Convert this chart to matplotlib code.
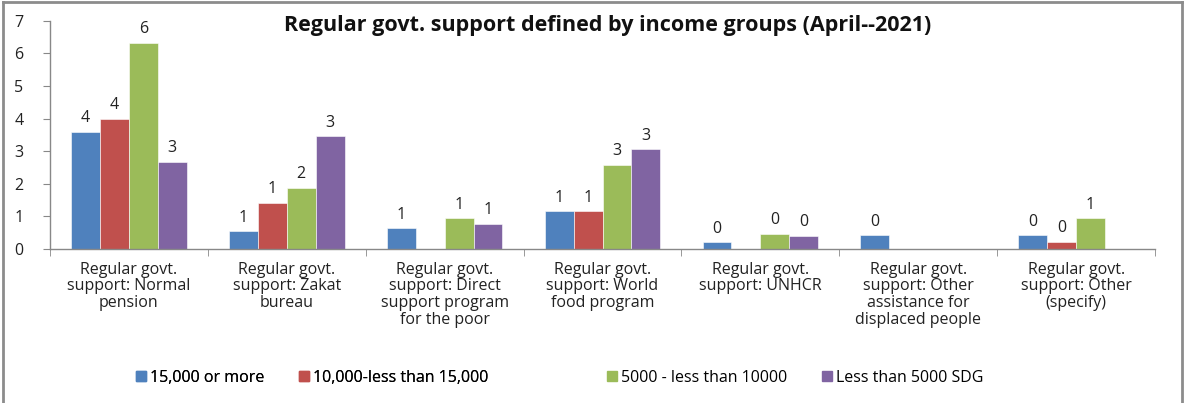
import numpy as np
import matplotlib
matplotlib.use("Agg")
import matplotlib.pyplot as plt
from matplotlib.lines import Line2D

plt.rcParams['font.family'] = ['Open Sans', 'DejaVu Sans']

categories = [
    "Regular govt.\nsupport: Normal\npension",
    "Regular govt.\nsupport: Zakat\nbureau",
    "Regular govt.\nsupport: Direct\nsupport program\nfor the poor",
    "Regular govt.\nsupport: World\nfood program",
    "Regular govt.\nsupport: UNHCR",
    "Regular govt.\nsupport: Other\nassistance for\ndisplaced people",
    "Regular govt.\nsupport: Other\n(specify)",
]
series_names = ["15,000 or more", "10,000-less than 15,000",
                "5000 - less than 10000", "Less than 5000 SDG"]
nan = np.nan
s_15000_plus = [3.60, 0.54, 0.64, 1.16, 0.20, 0.42, 0.42]
s_10000_15000 = [4.00, 1.41, nan, 1.16, nan, nan, 0.22]
s_5000_10000 = [6.33, 1.88, 0.94, 2.59, 0.47, nan, 0.94]
s_below_5000 = [2.67, 3.45, 0.78, 3.06, 0.40, nan, nan]
series = [s_15000_plus, s_10000_15000, s_5000_10000, s_below_5000]
colors = ["#4F81BD", "#C0504D", "#9BBB59", "#8064A2"]
yticks = [0, 1, 2, 3, 4, 5, 6, 7]

W, H = 1189, 403
fig = plt.figure(figsize=(W / 100, H / 100), dpi=100)
ax = fig.add_axes([50 / W, 154 / H, 1105 / W, 228.3 / H])

n = len(categories)
x = np.arange(n)
bw = 0.183
for i, (vals, col) in enumerate(zip(series, colors)):
    pos = x + (i - 1.5) * bw
    v = np.array(vals, dtype=float)
    ax.bar(pos, np.nan_to_num(v), width=bw, color=col,
           edgecolor="white", linewidth=0.4, label=series_names[i])
    for p, val in zip(pos, v):
        if np.isnan(val):
            continue
        ax.annotate(f"{val:.0f}", (p, val), xytext=(0, 4),
                    textcoords="offset points", ha="center", va="bottom",
                    fontsize=11.5, color="#222222")

ax.set_xlim(-0.5, n - 0.5)
ax.set_ylim(0, 7)
ax.set_yticks(yticks)
ax.set_yticklabels([str(t) for t in yticks], fontsize=11.5)
ax.tick_params(axis='y', length=5, color="#888888", pad=14, labelcolor="#222222")

ax.set_xticks(x)
ax.set_xticklabels(categories, fontsize=11.5, linespacing=1.08, color="#222222")
ax.tick_params(axis='x', which='major', length=0, pad=9)
ax.set_xticks(np.arange(n + 1) - 0.5, minor=True)
ax.tick_params(axis='x', which='minor', length=5, color="#888888")

for s in ["top", "right"]:
    ax.spines[s].set_visible(False)
for s in ["left", "bottom"]:
    ax.spines[s].set_color("#888888")
    ax.spines[s].set_linewidth(1.0)

fig.text(608 / W, 1 - 26 / H, "Regular govt. support defined by income groups (April--2021)",
         ha="center", va="center", fontsize=15.5, fontweight="bold", color="#111111")

handles = [Line2D([0], [0], marker="s", linestyle="none", markersize=7.5,
                  markerfacecolor=c, markeredgecolor=c) for c in colors]
leg_kw = dict(loc="center", ncol=2, frameon=False, fontsize=11.5, handletextpad=0.05,
              columnspacing=2.0, handlelength=1.0)
leg1 = fig.legend(handles[:2], series_names[:2], bbox_to_anchor=(311 / W, 1 - 378 / H), **leg_kw)
fig.add_artist(leg1)
fig.legend(handles[2:], series_names[2:], bbox_to_anchor=(794 / W, 1 - 378 / H), **leg_kw)

# outer frame
fc = "#8c8c8c"
fig.add_artist(Line2D([2.5 / W, 2.5 / W], [0, 1 - 1.5 / H], transform=fig.transFigure, color=fc, lw=2))
fig.add_artist(Line2D([2.5 / W, 1181.5 / W], [1 - 1.5 / H, 1 - 1.5 / H], transform=fig.transFigure, color=fc, lw=2))
fig.add_artist(Line2D([1181.5 / W, 1181.5 / W], [0, 1 - 1.5 / H], transform=fig.transFigure, color=fc, lw=2))

fig.savefig("out.png", dpi=100)
